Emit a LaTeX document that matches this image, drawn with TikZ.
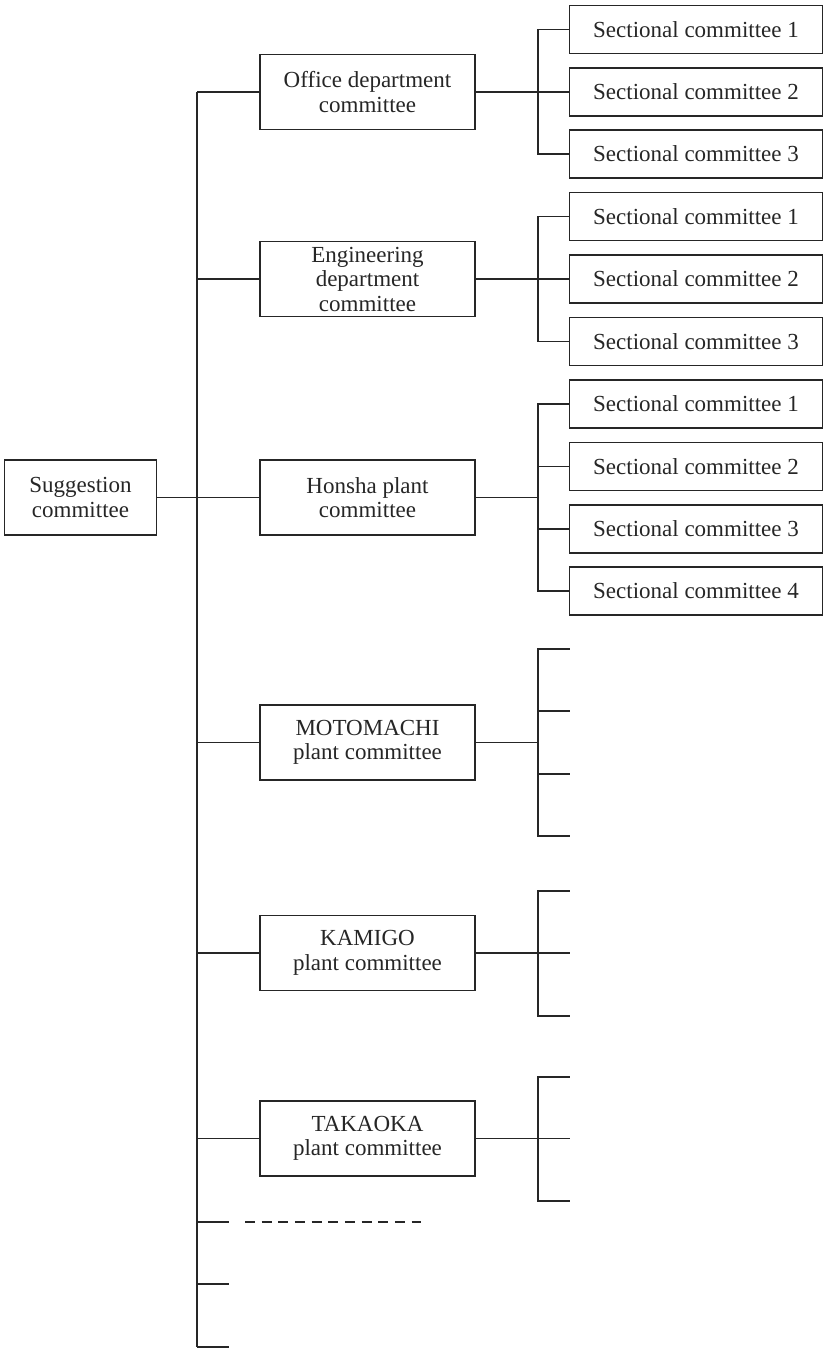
\documentclass[tikz,border=0pt]{standalone}
\usepackage{fontspec}
\setmainfont{Liberation Serif}
\begin{document}
\begin{tikzpicture}[x=0.5pt,y=-0.5pt,
  unit/.style={draw=black!85, line width=0.65pt, rectangle, inner sep=0pt,
    align=center, text=black!85, font=\fontsize{11.5}{12.25}\selectfont},
  rootbox/.style={unit, minimum width=76pt, minimum height=37.5pt},
  deptbox/.style={unit, minimum width=107.5pt, minimum height=37.5pt},
  secbox/.style={unit, minimum width=126.5pt, minimum height=24pt},
  link/.style={draw=black!85, line width=0.65pt},
  gap/.style={link, dash pattern=on 5pt off 3.33pt}
]
\useasboundingbox (0,0) rectangle (823,1349);

% top of the hierarchy
\node[rootbox] (root) at (80.5,497.5) {Suggestion\\committee};

% department / plant committees
\node[deptbox] (office)  at (367.5,92)     {Office department\\committee};
\node[deptbox] (eng)     at (367.5,279)    {Engineering\\department\\committee};
\node[deptbox] (honsha)  at (367.5,497.5)  {Honsha plant\\committee};
\node[deptbox] (moto)    at (367.5,742.5)  {MOTOMACHI\\plant committee};
\node[deptbox] (kamigo)  at (367.5,953)    {KAMIGO\\plant committee};
\node[deptbox] (takaoka) at (367.5,1138.5) {TAKAOKA\\plant committee};

% sectional committees
\node[secbox] (o1) at (696,29.5)  {Sectional committee 1};
\node[secbox] (o2) at (696,92)    {Sectional committee 2};
\node[secbox] (o3) at (696,154)   {Sectional committee 3};
\node[secbox] (e1) at (696,216.5) {Sectional committee 1};
\node[secbox] (e2) at (696,279)   {Sectional committee 2};
\node[secbox] (e3) at (696,341.5) {Sectional committee 3};
\node[secbox] (h1) at (696,404)   {Sectional committee 1};
\node[secbox] (h2) at (696,466.5) {Sectional committee 2};
\node[secbox] (h3) at (696,529)   {Sectional committee 3};
\node[secbox] (h4) at (696,591)   {Sectional committee 4};

% reference columns for the two buses
\coordinate (trunk) at (197,0);
\coordinate (busx)  at (538,0);

% main trunk
\coordinate (trunktop) at (197,92);
\coordinate (trunkbot) at (197,1347);
\draw[link] (trunktop) -- (trunkbot);
\draw[link] (root.east) -- (honsha.west);
\foreach \d in {office,eng,moto,kamigo,takaoka}
  \draw[link] (\d.west -| trunk) -- (\d.west);

% office group
\draw[link] (office.east) -- (o2.west);
\draw[link] (o1.west) -- (o1.west -| busx) -- (o3.west -| busx) -- (o3.west);

% engineering group
\draw[link] (eng.east) -- (e2.west);
\draw[link] (e1.west) -- (e1.west -| busx) -- (e3.west -| busx) -- (e3.west);

% honsha group
\draw[link] (honsha.east) -- (honsha.east -| busx);
\draw[link] (h1.west) -- (h1.west -| busx) -- (h4.west -| busx) -- (h4.west);
\draw[link] (h2.west -| busx) -- (h2.west);
\draw[link] (h3.west -| busx) -- (h3.west);

% motomachi group (open branches)
\coordinate (m1) at (569.5,649);
\coordinate (m2) at (569.5,711);
\coordinate (m3) at (569.5,774);
\coordinate (m4) at (569.5,836);
\draw[link] (moto.east) -- (moto.east -| busx);
\draw[link] (m1) -- (m1 -| busx) -- (m4 -| busx) -- (m4);
\draw[link] (m2 -| busx) -- (m2);
\draw[link] (m3 -| busx) -- (m3);

% kamigo group
\coordinate (k1) at (569.5,891);
\coordinate (k2) at (569.5,953);
\coordinate (k3) at (569.5,1016);
\draw[link] (kamigo.east) -- (k2);
\draw[link] (k1) -- (k1 -| busx) -- (k3 -| busx) -- (k3);

% takaoka group
\coordinate (t1) at (569.5,1077);
\coordinate (t2) at (569.5,1138.5);
\coordinate (t3) at (569.5,1201);
\draw[link] (takaoka.east) -- (t2);
\draw[link] (t1) -- (t1 -| busx) -- (t3 -| busx) -- (t3);

% further branches at the foot of the trunk
\coordinate (x1) at (229,1222);
\coordinate (x2) at (229,1284);
\coordinate (x3) at (229,1347);
\coordinate (dashA) at (245,1222);
\coordinate (dashB) at (421,1222);
\draw[link] (x1 -| trunk) -- (x1);
\draw[gap] (dashA) -- (dashB);
\draw[link] (x2 -| trunk) -- (x2);
\draw[link] (x3 -| trunk) -- (x3);
\end{tikzpicture}
\end{document}
